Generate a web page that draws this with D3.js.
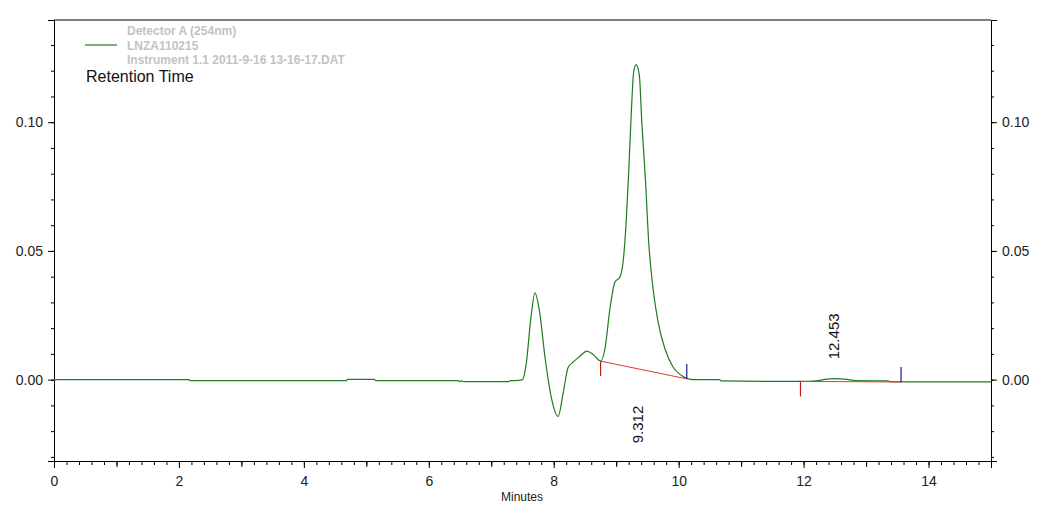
<!DOCTYPE html>
<html>
<head>
<meta charset="utf-8">
<script src="https://cdn.jsdelivr.net/npm/d3@7"></script>
<style>
  body { margin: 0; background: #fff; }
  svg text { font-family: "Liberation Sans", Arial, sans-serif; }
</style>
</head>
<body>
<div id="chart"></div>
<script>
// chromatogram trace (minutes, AU)
var traceTime = [0, 2.16, 2.18, 4.68, 4.70, 5.13, 5.15, 6.47, 6.49, 6.52, 6.56, 7.28, 7.30, 7.44,
  7.50, 7.56, 7.63, 7.70, 7.77, 7.86, 7.96, 8.07, 8.15, 8.23, 8.31, 8.42, 8.53, 8.63, 8.75,
  8.82, 8.90, 8.98, 9.06, 9.11, 9.16, 9.20, 9.24, 9.28, 9.32, 9.37, 9.41, 9.47, 9.52, 9.59,
  9.67, 9.78, 9.91, 10.04, 10.13, 10.25, 10.65, 10.68, 11.95, 12.20, 12.34, 12.50, 12.66,
  12.84, 13.34, 13.40, 13.56, 15];
var traceSignal = [0, 0, -0.0004, -0.0004, 0.0001, 0.0001, -0.0004, -0.0004, -0.0008, -0.0005, -0.0008, -0.0008, -0.0004, -0.0003,
  0.0000, 0.0062, 0.0230, 0.0337, 0.0269, 0.0088, -0.0068, -0.0143, -0.0054, 0.0047, 0.0068, 0.0091, 0.0111, 0.0098, 0.0072,
  0.0120, 0.0276, 0.0379, 0.0399, 0.0457, 0.0613, 0.0807, 0.1027, 0.1196, 0.1224, 0.1183, 0.1001, 0.0768, 0.0535, 0.0354,
  0.0224, 0.0120, 0.0049, 0.0017, 0.0005, 0.0000, 0.0000, -0.0005, -0.0007, -0.0005, 0.0001, 0.0004, 0.0002,
  -0.0004, -0.0005, -0.0008, -0.0009, -0.0009];

// integrated peaks
var peakRT = [9.312, 12.453];
var peakStartT = [8.75, 11.95];
var peakStartV = [0.0072, -0.0007];
var peakEndT = [10.13, 13.56];
var peakEndV = [0.0003, -0.0009];
var peakLabelV = [-0.0247, 0.0079];

var xMajor = [0, 2, 4, 6, 8, 10, 12, 14];
var yMajor = [0, 0.05, 0.10];

var legendLines = ["Detector A (254nm)", "LNZA110215", "Instrument 1.1 2011-9-16 13-16-17.DAT"];

var svgWidth = 1057;
var svgHeight = 507;
var margin = { top: 20, right: 66, bottom: 46, left: 54 };
var chartWidth = svgWidth - margin.left - margin.right;
var chartHeight = svgHeight - margin.top - margin.bottom;

var svg = d3.select("#chart").append("svg")
  .attr("width", svgWidth)
  .attr("height", svgHeight);

var chartGroup = svg.append("g")
  .attr("transform", `translate(${margin.left}, ${margin.top})`);

var xScale = d3.scaleLinear().domain([0, 15]).range([0, chartWidth]);
var yScale = d3.scaleLinear().domain([-0.0316, 0.1397]).range([chartHeight, 0]);

var fmt = d3.format(".2f");
var minorY = d3.range(-3, 14).map(function(i) { return i / 100; });
var minorX = d3.range(0, 76).map(function(i) { return i / 5; });
var oddX = d3.range(1, 15, 2);

function styleAxis(g) {
  g.select(".domain").attr("stroke", "#000");
  g.selectAll(".tick line").attr("stroke", "#000");
  g.selectAll(".tick text").attr("font-size", 14).attr("fill", "#222");
}

// left axis
chartGroup.append("g").call(d3.axisLeft(yScale).tickValues(minorY).tickSize(3).tickFormat(""))
  .call(styleAxis);
chartGroup.append("g").call(d3.axisLeft(yScale).tickValues(yMajor).tickSize(6).tickPadding(5).tickFormat(fmt))
  .call(styleAxis);

// right axis
chartGroup.append("g").attr("transform", `translate(${chartWidth},0)`)
  .call(d3.axisRight(yScale).tickValues(minorY).tickSize(3).tickFormat(""))
  .call(styleAxis);
chartGroup.append("g").attr("transform", `translate(${chartWidth},0)`)
  .call(d3.axisRight(yScale).tickValues(yMajor).tickSize(6).tickPadding(5).tickFormat(fmt))
  .call(styleAxis);

// bottom axis
chartGroup.append("g").attr("transform", `translate(0,${chartHeight})`)
  .call(d3.axisBottom(xScale).tickValues(minorX).tickSize(4).tickFormat(""))
  .call(styleAxis);
chartGroup.append("g").attr("transform", `translate(0,${chartHeight})`)
  .call(d3.axisBottom(xScale).tickValues(oddX).tickSize(6).tickFormat(""))
  .call(styleAxis);
chartGroup.append("g").attr("transform", `translate(0,${chartHeight})`)
  .call(d3.axisBottom(xScale).tickValues(xMajor).tickSize(7).tickPadding(8).tickFormat(d3.format("d")))
  .call(styleAxis);

// top border
chartGroup.append("line")
  .attr("x1", 0).attr("x2", chartWidth).attr("y1", 0).attr("y2", 0)
  .attr("stroke", "#000");

chartGroup.append("text")
  .attr("x", chartWidth / 2 - 0.5)
  .attr("y", chartHeight + 40)
  .attr("text-anchor", "middle")
  .attr("font-size", 12)
  .attr("fill", "#222")
  .text("Minutes");

// trace
chartGroup.append("clipPath").attr("id", "clip")
  .append("rect").attr("width", chartWidth).attr("height", chartHeight);

var trace = traceTime.map(function(t, i) { return [t, traceSignal[i]]; });
var line = d3.line()
  .x(function(d) { return xScale(d[0]); })
  .y(function(d) { return yScale(d[1]); })
  .curve(d3.curveMonotoneX);

chartGroup.append("path")
  .datum(trace)
  .attr("clip-path", "url(#clip)")
  .attr("fill", "none")
  .attr("stroke", "#1e7b1e")
  .attr("stroke-width", 1.2)
  .attr("d", line);

// integration baselines, start/end markers and retention-time labels
peakRT.forEach(function(rt, i) {
  var x0 = xScale(peakStartT[i]), y0 = yScale(peakStartV[i]);
  var x1 = xScale(peakEndT[i]), y1 = yScale(peakEndV[i]);
  chartGroup.append("line")
    .attr("x1", x0).attr("y1", y0).attr("x2", x1).attr("y2", y1)
    .attr("stroke", "#e23a3a").attr("stroke-width", 1);
  chartGroup.append("line")
    .attr("x1", x0).attr("y1", y0).attr("x2", x0).attr("y2", y0 + 15)
    .attr("stroke", "#c41818").attr("stroke-width", 1.2);
  chartGroup.append("line")
    .attr("x1", x1).attr("y1", y1).attr("x2", x1).attr("y2", y1 - 15)
    .attr("stroke", "#1a1a9a").attr("stroke-width", 1.2);
  chartGroup.append("text")
    .attr("transform", `translate(${xScale(rt) + 7},${yScale(peakLabelV[i])}) rotate(-90)`)
    .attr("font-size", 15)
    .attr("fill", "#111")
    .text(d3.format(".3f")(rt));
});

// legend
svg.append("line")
  .attr("x1", 85).attr("x2", 117).attr("y1", 45).attr("y2", 45)
  .attr("stroke", "#1e7b1e").attr("stroke-width", 1.2);

svg.selectAll(".legend-text").data(legendLines).enter()
  .append("text")
  .attr("class", "legend-text")
  .attr("x", 127)
  .attr("y", function(d, i) { return 35 + i * 14.5; })
  .attr("font-size", 12)
  .attr("font-weight", "bold")
  .attr("fill", "#c3c3c3")
  .text(function(d) { return d; });

svg.append("text")
  .attr("x", 86).attr("y", 82)
  .attr("font-size", 16)
  .attr("fill", "#111")
  .text("Retention Time");
</script>
</body>
</html>
